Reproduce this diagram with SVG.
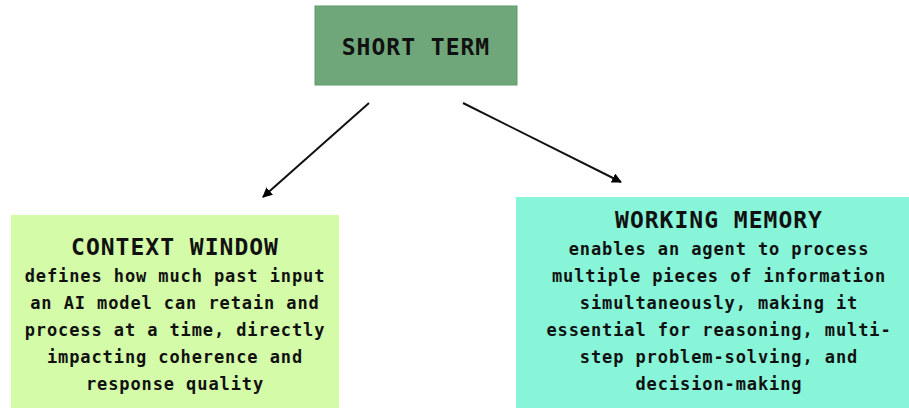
<svg xmlns="http://www.w3.org/2000/svg" width="909" height="408" viewBox="0 0 909 408">
<defs>
<marker id="ah" markerWidth="10" markerHeight="10" refX="9" refY="5" orient="auto" markerUnits="userSpaceOnUse" viewBox="0 0 10 10">
<path d="M0,0 L10,5 L0,10 Z" fill="#000"/>
</marker>
<style>
.t{font-family:"DejaVu Sans Mono","Liberation Mono",monospace;font-weight:bold;font-size:23px;letter-spacing:1px;fill:#111;text-anchor:middle}
.b{font-family:"DejaVu Sans Mono","Liberation Mono",monospace;font-weight:bold;font-size:17px;letter-spacing:0.9px;fill:#111;text-anchor:middle}
.c{stroke:#111;stroke-width:2;fill:none;marker-end:url(#ah)}
</style>
</defs>
<rect width="909" height="408" fill="#fff"/>
<g id="short-term">
<rect x="315" y="6" width="202" height="79" fill="#6fa77a" stroke="#5f9a6a" stroke-width="1"/>
<text class="t" x="416" y="55">SHORT TERM</text>
</g>
<g id="context-window">
<rect x="11" y="215" width="328" height="200" fill="#d4fca8"/>
<text class="t" x="175" y="255">CONTEXT WINDOW</text>
<text class="b" x="175" y="282">defines how much past input</text>
<text class="b" x="175" y="309">an AI model can retain and</text>
<text class="b" x="175" y="336">process at a time, directly</text>
<text class="b" x="175" y="363">impacting coherence and</text>
<text class="b" x="175" y="390">response quality</text>
</g>
<g id="working-memory">
<rect x="516" y="197" width="410" height="220" fill="#88f5d8"/>
<text class="t" x="719" y="228">WORKING MEMORY</text>
<text class="b" x="719" y="255">enables an agent to process</text>
<text class="b" x="719" y="282">multiple pieces of information</text>
<text class="b" x="719" y="309">simultaneously, making it</text>
<text class="b" x="719" y="336">essential for reasoning, multi-</text>
<text class="b" x="719" y="363">step problem-solving, and</text>
<text class="b" x="719" y="390">decision-making</text>
</g>
<g id="connectors">
<line class="c" x1="369" y1="103" x2="263" y2="197"/>
<line class="c" x1="463" y1="103" x2="621" y2="182"/>
</g>
</svg>
